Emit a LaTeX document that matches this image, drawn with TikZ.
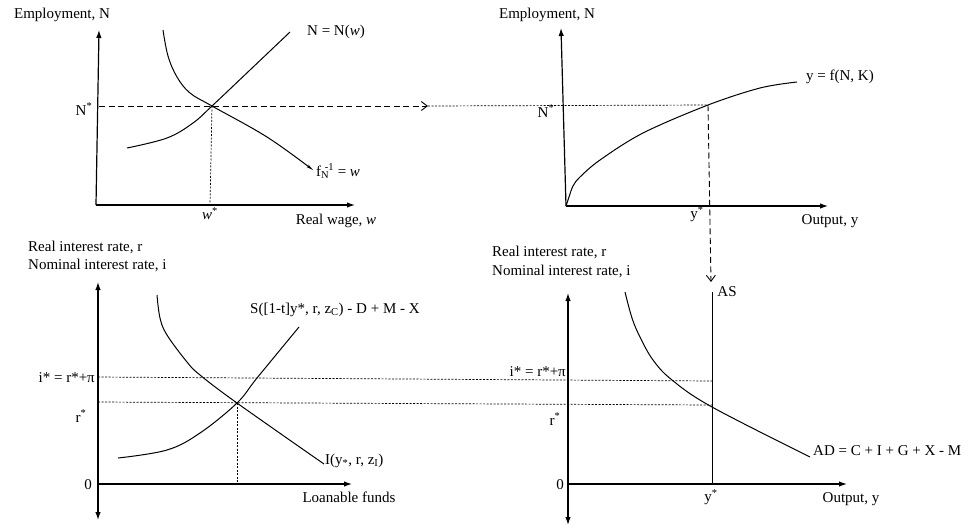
\documentclass[tikz,border=0pt]{standalone}
\usepackage{fontspec}
\setmainfont{Liberation Serif}
\usetikzlibrary{arrows.meta}
\begin{document}
\begin{tikzpicture}[x=1pt,y=-1pt,
  font=\fontsize{15}{17}\selectfont,
  axis/.style={line width=1.2pt,-{Latex[length=8pt,width=5.5pt]}},
  curve/.style={line width=1pt},
  guide/.style={line width=0.7pt,dash pattern=on 2pt off 1.5pt},
  longdash/.style={line width=0.9pt,dash pattern=on 6pt off 3.5pt},
  openarrow/.style={-{Straight Barb[length=6pt,width=9pt,line width=0.9pt]}},
  lbl/.style={inner sep=0pt}]
\useasboundingbox (0,0) rectangle (974,531);

% ---------- top-left panel ----------
\coordinate (o1) at (96,205);
\coordinate (t1) at (99,30);
\coordinate (r1) at (355,205);
\coordinate (e1) at (212,106);
\coordinate (n1) at (99,106);
\coordinate (w1) at (210,205);
\coordinate (a1) at (428,106);
\draw[axis] (o1) -- (t1);
\draw[axis] (o1) -- (r1);
\draw[curve,-{Stealth[length=7pt,width=3pt]}] plot[smooth,tension=0.6] coordinates
  {(163,30) (168,56) (177,77) (190,93) (e1) (267,137) (313,170)};
\draw[curve] plot[smooth,tension=0.6] coordinates
  {(127,148) (167,138) (193,123) (e1) (250,70) (290,32)};
\draw[longdash,openarrow] (n1) -- (a1);
\draw[guide] (e1) -- (w1);
\node[lbl] (emp1) at (62,15) {Employment, N};
\node[lbl] (nstar1) at (84,109) {N\textsuperscript{*}};
\node[lbl] (wstar) at (210,214) {\textit{w}\textsuperscript{*}};
\node[lbl] (rwage) at (336,221) {Real wage, \textit{w}};
\node[lbl,anchor=west] (nw) at (307,32) {N = N(\textit{w})};
\node[lbl,anchor=west] (fn) at (316,171) {f\textsubscript{N}\hspace{-0.3em}\textsuperscript{-1} = \textit{w}};

% ---------- top-right panel ----------
\coordinate (o2) at (566,206);
\coordinate (t2) at (561,28);
\coordinate (r2) at (828,206);
\coordinate (e2) at (708,105);
\coordinate (a2) at (711,282);
\draw[axis] (o2) -- (t2);
\draw[axis] (o2) -- (r2);
\draw[curve] plot[smooth,tension=0.55] coordinates
  {(o2) (569,197) (573,186) (580,177) (600,160) (643,133) (e2) (760,88) (797,82)};
\draw[guide] (a1) -- (e2);
\draw[longdash,openarrow] (e2) -- (a2);
\node[lbl] (emp2) at (547,15) {Employment, N};
\node[lbl] (nstar2) at (546,111) {N\textsuperscript{*}};
\node[lbl] (ystar1) at (697,214) {y\textsuperscript{*}};
\node[lbl] (out1) at (830,221) {Output, y};
\node[lbl,anchor=west] (prod) at (806,77) {y = f(N, K)};

% ---------- bottom-left panel ----------
\coordinate (o3) at (98,484);
\coordinate (t3) at (98,282);
\coordinate (b3) at (98,520);
\coordinate (r3) at (352,484);
\coordinate (e3) at (237,403);
\coordinate (f3) at (237,484);
\coordinate (il) at (98,377);
\coordinate (rl) at (98,402);
\draw[axis] (o3) -- (t3);
\draw[axis] (o3) -- (b3);
\draw[axis] (o3) -- (r3);
\draw[curve] plot[smooth,tension=0.6] coordinates
  {(157,295) (160,318) (167,335) (187,362) (200,375) (e3) (324,464)};
\draw[curve] plot[smooth,tension=0.6] coordinates
  {(118,458) (167,450) (200,433) (e3) (257,378) (299,327)};
\draw[guide] (e3) -- (f3);
\node[lbl,anchor=west] (rir1) at (28,247) {Real interest rate, r};
\node[lbl,anchor=west] (nir1) at (28,265) {Nominal interest rate, i};
\node[lbl,anchor=east] (istar1) at (95,378) {i* = r*+π};
\node[lbl] (rstar1) at (81,416) {r\textsuperscript{*}};
\node[lbl] (zero1) at (88,485) {0};
\node[lbl] (loan) at (349,497) {Loanable funds};
\node[lbl,anchor=west] (slab) at (250,310) {S([1-t]y*, r, z\textsubscript{C}) - D + M - X};
\node[lbl,anchor=west] (ilab) at (325,461) {I(y\textsubscript{*}, r, z\textsubscript{I})};

% ---------- bottom-right panel ----------
\coordinate (o4) at (568,484);
\coordinate (t4) at (568,293);
\coordinate (b4) at (568,525);
\coordinate (r4) at (847,484);
\coordinate (as1) at (712,292);
\coordinate (as0) at (712,484);
\coordinate (ir) at (712,381);
\coordinate (rr) at (712,405);
\draw[axis] (o4) -- (t4);
\draw[axis] (o4) -- (b4);
\draw[axis] (o4) -- (r4);
\draw[line width=1pt] (as1) -- (as0);
\draw[curve] plot[smooth,tension=0.6] coordinates
  {(625,292) (632,318) (640,337) (653,360) (672,380) (712,407) (810,457)};
\draw[guide] (il) -- (ir);
\draw[guide] (rl) -- (rr);
\node[lbl,anchor=west] (rir2) at (492,252) {Real interest rate, r};
\node[lbl,anchor=west] (nir2) at (492,271) {Nominal interest rate, i};
\node[lbl,anchor=east] (istar2) at (566,372) {i* = r*+π};
\node[lbl] (rstar2) at (555,419) {r\textsuperscript{*}};
\node[lbl] (zero2) at (560,485) {0};
\node[lbl] (ystar2) at (711,497) {y\textsuperscript{*}};
\node[lbl] (out2) at (851,499) {Output, y};
\node[lbl] (aslab) at (727,292) {AS};
\node[lbl,anchor=west] (adlab) at (813,451) {AD = C + I + G + X - M};
\end{tikzpicture}
\end{document}
